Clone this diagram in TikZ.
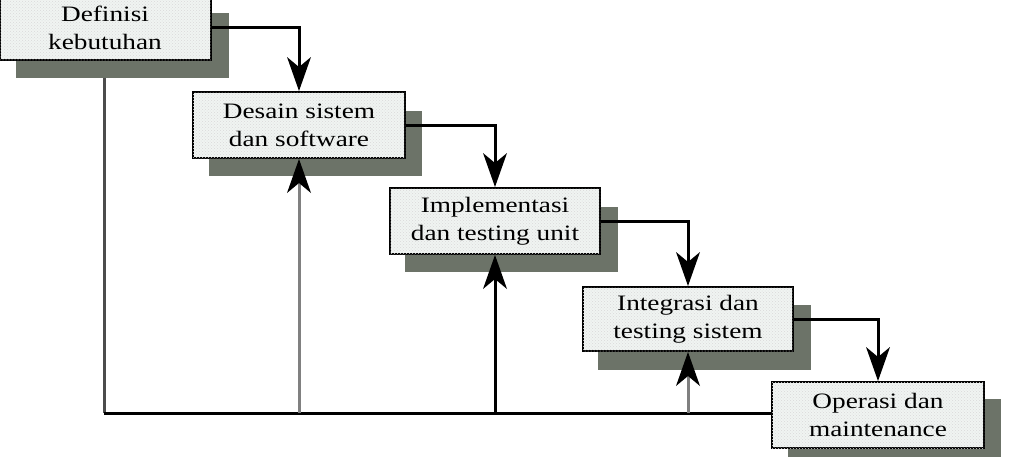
\documentclass[tikz,border=0pt]{standalone}
\usepackage{fontspec}
\newfontfamily\boxfont[FakeStretch=1.24]{Liberation Serif}
\usetikzlibrary{arrows.meta,patterns}
\definecolor{shadowc}{RGB}{108,115,104}
\definecolor{boxfill}{RGB}{240,244,242}
\definecolor{risegray}{RGB}{128,128,128}
\begin{document}
\begin{tikzpicture}[x=1pt,y=-1pt,
  stage/.style={draw=black,line width=2pt,fill=boxfill,
    postaction={pattern=crosshatch dots,pattern color=gray!30},
    minimum width=211pt,minimum height=65pt,inner sep=0pt,align=center,
    font=\boxfont\fontsize{22}{28}\selectfont},
  shade/.style={fill=shadowc,minimum width=213pt,minimum height=65pt,inner sep=0pt},
  bigtip/.style={-{Stealth[length=34pt,width=24pt,inset=10pt,color=black,line width=0pt]}},
  flow/.style={line width=3pt,bigtip},
  back/.style={line width=3pt,bigtip},
  base/.style={line width=3pt}]
\useasboundingbox (0,0) rectangle (1019,456);
% shadows
\node[shade] (s1) at (122.5,45.5) {};
\node[shade] (s2) at (315,143) {};
\node[shade] (s3) at (511,239) {};
\node[shade] (s4) at (704,337) {};
\node[shade] (s5) at (894,431) {};
% stages
\node[stage] (b1) at (105,27.5) {Definisi\\kebutuhan};
\node[stage,minimum width=212pt,minimum height=66pt] (b2) at (299,125) {Desain sistem\\dan software};
\node[stage,minimum width=210pt,minimum height=66pt] (b3) at (495,221) {Implementasi\\dan testing unit};
\node[stage,minimum width=210pt,minimum height=64pt] (b4) at (688,319) {Integrasi dan\\testing sistem};
\node[stage,minimum width=212pt,minimum height=66pt] (b5) at (878,415) {Operasi dan\\maintenance};
% forward flow
\draw[flow] (b1.east) -| (b2.north);
\draw[flow] (b2.east) -| (b3.north);
\draw[flow] (b3.east) -| (b4.north);
\draw[flow] (b4.east) -| (b5.north);
% feedback
\coordinate (fb) at (104,413);
\draw[base,black!70] (s1.south -| fb) -- (fb);
\draw[base] (fb) -- (fb -| b5.west);
\draw[back,draw=risegray] (b2.south |- fb) -- (b2.south);
\draw[back] (b3.south |- fb) -- (b3.south);
\draw[back,draw=risegray] (b4.south |- fb) -- (b4.south);
\end{tikzpicture}
\end{document}
